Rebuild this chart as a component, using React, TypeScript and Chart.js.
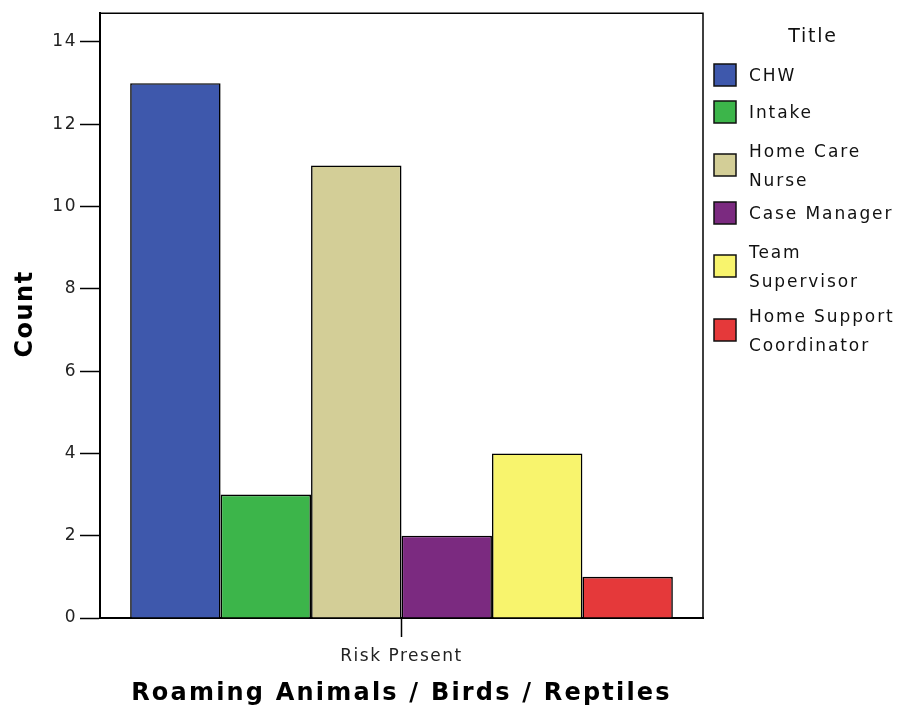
import React, { useEffect, useRef } from "react";
import { Chart, registerables } from "chart.js";

Chart.register(...registerables);

const categories = ["Risk Present"];
const seriesNames = ["CHW", "Intake", "Home Care Nurse", "Case Manager", "Team Supervisor", "Home Support Coordinator"];
const legendLines = [["CHW"], ["Intake"], ["Home Care", "Nurse"], ["Case Manager"], ["Team", "Supervisor"], ["Home Support", "Coordinator"]];
const seriesValues = [13, 3, 11, 2, 4, 1];
const seriesColors = ["#3E58AC", "#3CB54A", "#D3CE97", "#7B2A80", "#F8F46D", "#E5393A"];
const yTicks = [0, 2, 4, 6, 8, 10, 12, 14];
const xTitle = "Roaming Animals / Birds / Reptiles";
const yTitle = "Count";
const legendTitle = "Title";

const FONT = "'DejaVu Sans', sans-serif";

const extrasPlugin = {
  id: "extras",
  beforeDraw(chart: any) {
    chart.ctx.letterSpacing = "1.5px";
  },
  afterDraw(chart: any) {
    const ctx = chart.ctx;
    const a = chart.chartArea;
    ctx.save();
    // plot frame top/right
    ctx.strokeStyle = "#000";
    ctx.lineWidth = 1.5;
    ctx.beginPath();
    ctx.moveTo(a.left, a.top);
    ctx.lineTo(a.right, a.top);
    ctx.lineTo(a.right, a.bottom);
    ctx.stroke();

    // axis titles
    ctx.fillStyle = "#000";
    ctx.font = `bold 24px ${FONT}`;
    ctx.letterSpacing = "2.2px";
    ctx.textAlign = "center";
    ctx.textBaseline = "middle";
    ctx.fillText(xTitle, (a.left + a.right) / 2, 694);
    ctx.save();
    ctx.translate(26, 314);
    ctx.rotate(-Math.PI / 2);
    ctx.letterSpacing = "1.5px";
    ctx.fillText(yTitle, 0, 0);
    ctx.restore();

    // legend
    ctx.letterSpacing = "1.8px";
    ctx.font = `19px ${FONT}`;
    ctx.fillStyle = "#111";
    ctx.textAlign = "center";
    ctx.fillText(legendTitle, 813, 37);
    ctx.font = `17px ${FONT}`;
    ctx.letterSpacing = "1.9px";
    ctx.textAlign = "left";
    const lineH = 29;
    let y = 62;
    legendLines.forEach((lines, i) => {
      const blockH = lines.length === 1 ? 26 : lines.length * lineH;
      const cy = y + blockH / 2;
      ctx.fillStyle = seriesColors[i];
      ctx.fillRect(714, cy - 11, 22, 22);
      ctx.strokeStyle = "#111";
      ctx.lineWidth = 1.5;
      ctx.strokeRect(714, cy - 11, 22, 22);
      ctx.fillStyle = "#111";
      const startY = cy + 2 - ((lines.length - 1) * lineH) / 2;
      lines.forEach((t, j) => ctx.fillText(t, 749, startY + j * lineH));
      y += blockH + (lines.length === 1 ? 11 : 6);
    });
    ctx.restore();
    ctx.letterSpacing = "0px";
  },
};

export default function App() {
  const ref = useRef<HTMLCanvasElement>(null);
  useEffect(() => {
    const chart = new Chart(ref.current!, {
      type: "bar",
      data: {
        labels: categories,
        datasets: seriesNames.map((name, i) => ({
          label: name,
          data: [seriesValues[i]],
          backgroundColor: seriesColors[i],
          borderColor: "#000",
          borderWidth: 1.6,
          categoryPercentage: 0.9,
          barPercentage: 1,
        })),
      },
      options: {
        animation: false,
        responsive: true,
        maintainAspectRatio: false,
        layout: { padding: { top: 12, right: 199, left: 0, bottom: 0 } },
        plugins: { legend: { display: false }, tooltip: { enabled: false } },
        scales: {
          x: {
            afterFit: (s: any) => { s.height = 93; },
            grid: { offset: false, drawOnChartArea: false, tickLength: 19, tickColor: "#000", tickWidth: 1.5 },
            border: { display: true, color: "#000", width: 2 },
            ticks: { color: "#222", font: { family: FONT, size: 17 }, padding: 9 },
          },
          y: {
            min: 0,
            max: 14.7,
            afterFit: (s: any) => { s.width = 100; },
            afterBuildTicks: (s: any) => { s.ticks = yTicks.map((v) => ({ value: v })); },
            grid: { drawOnChartArea: false, tickLength: 20, tickColor: "#000", tickWidth: 1.5 },
            border: { display: true, color: "#000", width: 2 },
            ticks: { color: "#222", font: { family: FONT, size: 17 }, padding: 3, includeBounds: false },
          },
        },
      },
      plugins: [extrasPlugin],
    });
    return () => chart.destroy();
  }, []);
  return (
    <div style={{ position: "fixed", left: 0, top: 0, width: 902, height: 711, background: "#fff" }}>
      <canvas ref={ref} />
    </div>
  );
}
